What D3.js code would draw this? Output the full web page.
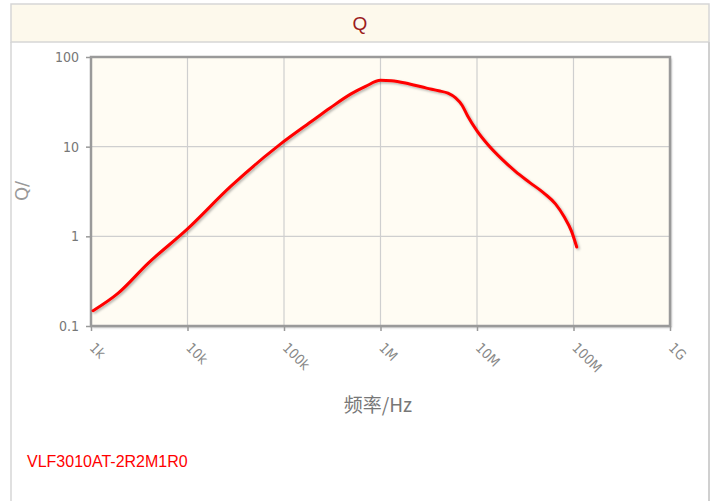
<!DOCTYPE html>
<html><head><meta charset="utf-8">
<script src="https://cdn.jsdelivr.net/npm/d3@7"></script>
<style>
body{margin:0;background:#fff;}
svg{display:block;}
</style></head>
<body><svg id="c" width="717" height="501"></svg>
<script>
const title = "Q";
const partName = "VLF3010AT-2R2M1R0";
const xTitle = "频率/Hz";
const yTitle = "Q/";
const xTickValues = [1e3, 1e4, 1e5, 1e6, 1e7, 1e8, 1e9];
const xTickLabels = ["1k", "10k", "100k", "1M", "10M", "100M", "1G"];
const yTickValues = [0.1, 1, 10, 100];
const yTickLabels = ["0.1", "1", "10", "100"];
const freq = [1.05e3, 1.9e3, 3.9e3, 1e4, 2.8e4, 9.1e4, 2e5, 3e5, 5e5, 7e5, 1e6, 1.3e6, 2e6, 3e6, 4e6, 5e6, 6e6, 7e6, 8e6, 1e7, 1.3e7, 1.8e7, 2.5e7, 3.5e7, 5e7, 6.5e7, 8e7, 9.5e7, 1.08e8];
const qValues = [0.148, 0.231, 0.50, 1.21, 3.6, 10.6, 19.7, 27, 39, 47, 55, 54.5, 50, 45, 42, 39.5, 35, 29, 22, 15, 10.5, 7.3, 5.3, 4.0, 3.0, 2.3, 1.65, 1.15, 0.76];

const svg = d3.select("#c");
const defs = svg.append("defs");
const f = defs.append("filter").attr("id","sh").attr("x","-5%").attr("y","-5%").attr("width","110%").attr("height","110%");
f.append("feDropShadow").attr("dx",1.5).attr("dy",1.5).attr("stdDeviation",1).attr("flood-color","#000").attr("flood-opacity",0.3);

// outer panel
svg.append("rect").attr("x",11).attr("y",4).attr("width",698).attr("height",38).attr("fill","#fdf9ec").attr("stroke","#d6d6d6").attr("stroke-width",1.5);
svg.append("line").attr("x1",11).attr("x2",11).attr("y1",42).attr("y2",501).attr("stroke","#d6d6d6").attr("stroke-width",1.5);
svg.append("line").attr("x1",709).attr("x2",709).attr("y1",42).attr("y2",501).attr("stroke","#d0d0d0").attr("stroke-width",2);
svg.append("text").attr("x",360).attr("y",30).attr("text-anchor","middle").attr("font-family","Liberation Sans, Arial, sans-serif").attr("font-size",19).attr("fill","#9b1c1c").text(title);

const x0 = 91, x1 = 670, y0 = 57, y1 = 326;
const x = d3.scaleLog().domain([1e3,1e9]).range([x0,x1]);
const y = d3.scaleLog().domain([0.1,100]).range([y1,y0]);

// plot background with shadow
svg.append("rect").attr("x",x0).attr("y",y0).attr("width",x1-x0).attr("height",y1-y0).attr("fill","#fffcf3").attr("filter","url(#sh)");

// grid
const g = svg.append("g");
g.selectAll(".gx").data(xTickValues.slice(1,-1)).join("line").attr("x1",d=>x(d)).attr("x2",d=>x(d)).attr("y1",y0).attr("y2",y1).attr("stroke","#cfcfcf").attr("stroke-width",1.2);
g.selectAll(".gy").data(yTickValues.slice(1,-1)).join("line").attr("y1",d=>y(d)).attr("y2",d=>y(d)).attr("x1",x0).attr("x2",x1).attr("stroke","#cfcfcf").attr("stroke-width",1.2);

// axes
const xAxis = d3.axisBottom(x).tickValues(xTickValues).tickSize(5).tickFormat((d,i)=>xTickLabels[i]);
const yAxis = d3.axisLeft(y).tickValues(yTickValues).tickSize(5).tickFormat((d,i)=>yTickLabels[i]);
const gx = svg.append("g").attr("transform",`translate(0,${y1})`).call(xAxis);
gx.select(".domain").remove();
gx.selectAll(".tick line").attr("stroke","#999").attr("stroke-width",1.5);
gx.selectAll(".tick text").attr("font-family","DejaVu Sans Condensed, DejaVu Sans, sans-serif").attr("font-size",14).attr("fill","#888")
  .attr("text-anchor","start").attr("dy",0).attr("transform","translate(3,17) rotate(45)");
const gy = svg.append("g").attr("transform",`translate(${x0},0)`).call(yAxis);
gy.select(".domain").remove();
gy.selectAll(".tick line").attr("stroke","#999").attr("stroke-width",1.5);
gy.selectAll(".tick text").attr("font-family","DejaVu Sans Condensed, DejaVu Sans, sans-serif").attr("font-size",14).attr("fill","#777").attr("x",-12);

// frame
svg.append("rect").attr("x",x0).attr("y",y0).attr("width",x1-x0).attr("height",y1-y0).attr("fill","none").attr("stroke","#9a9a9a").attr("stroke-width",2.5);

// curve
const line = d3.line().x((d,i)=>x(freq[i])).y(d=>y(d)).curve(d3.curveMonotoneX);
svg.append("path").datum(qValues).attr("d",line).attr("fill","none").attr("stroke","#ff0000").attr("stroke-width",3).attr("stroke-linejoin","round").attr("stroke-linecap","round").attr("filter","url(#sh)");

// titles
svg.append("text").attr("x",378).attr("y",412).attr("text-anchor","middle").attr("font-family","Noto Sans CJK SC, sans-serif").attr("font-size",19).attr("fill","#777").text(xTitle);
svg.append("text").attr("transform","translate(28,191) rotate(-90)").attr("text-anchor","middle").attr("font-family","DejaVu Sans, sans-serif").attr("font-size",18).attr("fill","#999").text(yTitle);

svg.append("text").attr("x",27).attr("y",467).attr("font-family","Liberation Sans, Arial, sans-serif").attr("font-size",16).attr("fill","#ff0000").text(partName);
</script></body></html>
